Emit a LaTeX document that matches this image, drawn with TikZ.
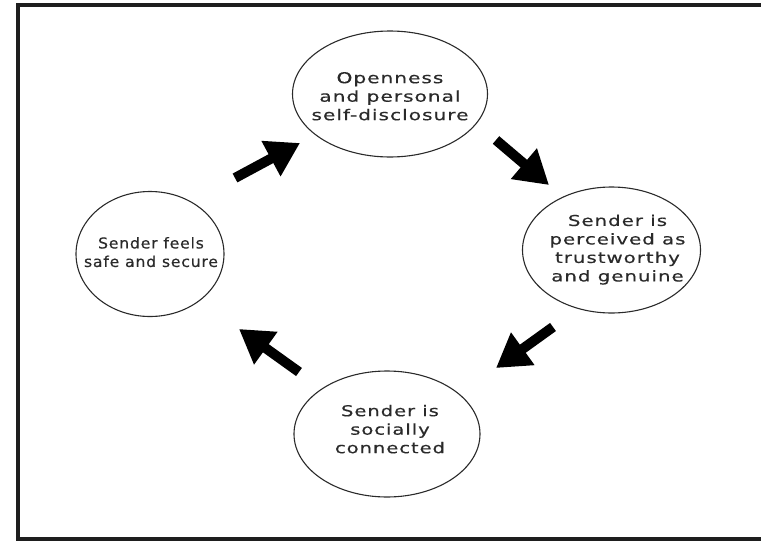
\documentclass[tikz,border=0pt]{standalone}
\usepackage{fontspec}
\newfontfamily\vfont{DejaVu Sans}[LetterSpace=5,FakeBold=0.4]
\usetikzlibrary{arrows.meta,shapes.geometric}
\definecolor{ink}{HTML}{2A2A2A}
\definecolor{frame}{HTML}{1E1E1E}
\newcommand\fitlines[2]{\resizebox{#1}{\height}{\begin{tabular}{@{}c@{}}#2\end{tabular}}}
\tikzset{
  bubble/.style={ellipse,draw=ink,line width=1.1pt,inner sep=0pt},
  label text/.style={align=center,text=ink,inner sep=0pt,
    font=\vfont\fontsize{15}{18.5}\selectfont},
  blockarrow/.style={draw=black,line width=10pt,
    -{Triangle[length=33pt,width=38pt]}},
}
\begin{document}
\begin{tikzpicture}[x=1pt,y=-1pt]
\clip (0,0) rectangle (761,541);
\draw[frame,line width=4pt] (18,5) rectangle (775,539);
\node[bubble,minimum width=195pt,minimum height=126pt] (open) at (390,94) {};
\node[bubble,minimum width=178pt,minimum height=126pt] (trust) at (611.5,250) {};
\node[bubble,minimum width=186pt,minimum height=126pt] (social) at (387,434) {};
\node[bubble,minimum width=148pt,minimum height=125pt] (safe) at (150,254) {};
\node[label text] (opent) at ([yshift=-4pt]open.center)
  {\fitlines{157pt}{Openness\\and personal\\self-disclosure}};
\node[label text] (trustt) at ([xshift=6pt]trust.center)
  {\fitlines{136pt}{Sender is\\perceived as\\trustworthy\\and genuine}};
\node[label text] (socialt) at ([yshift=3pt,xshift=3pt]social.center)
  {\fitlines{110pt}{Sender is\\socially\\connected}};
\node[label text] (safet) at ([xshift=1pt]safe.center)
  {\fitlines{134pt}{Sender feels\\safe and secure}};
\coordinate (a1s) at (235,178); \coordinate (a1e) at (300,143);
\coordinate (a2s) at (496,140); \coordinate (a2e) at (549,185);
\coordinate (a3s) at (553,327); \coordinate (a3e) at (496,368);
\coordinate (a4s) at (299,372); \coordinate (a4e) at (239,329);
\draw[blockarrow] (a1s) -- (a1e);
\draw[blockarrow] (a2s) -- (a2e);
\draw[blockarrow] (a3s) -- (a3e);
\draw[blockarrow] (a4s) -- (a4e);
\end{tikzpicture}
\end{document}
